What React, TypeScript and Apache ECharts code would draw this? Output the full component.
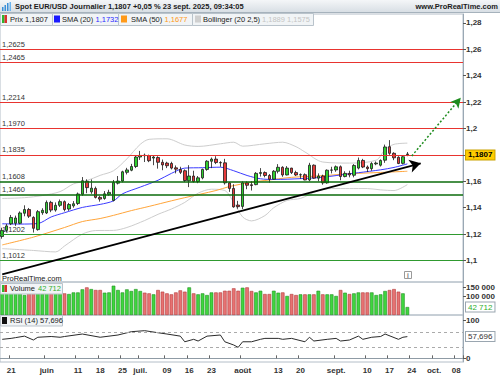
import React, { useEffect, useRef } from 'react';
import * as echarts from 'echarts';

const FONT = '"Liberation Sans", Arial, sans-serif';

// 104 weekday categories starting Mon 19 May 2025 (92 trading days + future space)
const DATES: string[] = (() => {
  const out: string[] = [];
  const d = new Date(Date.UTC(2025, 4, 19));
  while (out.length < 104) {
    const wd = d.getUTCDay();
    if (wd !== 0 && wd !== 6) out.push(d.toISOString().slice(0, 10));
    d.setUTCDate(d.getUTCDate() + 1);
  }
  return out;
})();

const TICK_LABELS: [number, string][] = [
  [2, '21'], [10, 'juin'], [17, '11'], [22, '18'], [27, '25'], [31, 'juil.'], [37, '09'], [42, '16'],
  [47, '23'], [54, 'août'], [62, '13'], [67, '20'], [75, 'sept.'], [82, '10'], [87, '17'], [92, '24'],
  [97, 'oct.'], [102, '08'],
];

// [open, close, low, high]
const OHLC: number[][] = [
  [1.1182, 1.1228, 1.1165, 1.1248], [1.1228, 1.1262, 1.1212, 1.1278], [1.1278, 1.1326, 1.1268, 1.1345],
  [1.1282, 1.1322, 1.1262, 1.1340], [1.1282, 1.1360, 1.1275, 1.1372], [1.1358, 1.1386, 1.1335, 1.1418],
  [1.1386, 1.1336, 1.1322, 1.1398], [1.1326, 1.1244, 1.1212, 1.1335], [1.1234, 1.1370, 1.1226, 1.1382],
  [1.1362, 1.1380, 1.1346, 1.1396], [1.1360, 1.1440, 1.1352, 1.1455], [1.1440, 1.1382, 1.1366, 1.1452],
  [1.1382, 1.1418, 1.1370, 1.1440], [1.1418, 1.1446, 1.1405, 1.1462], [1.1446, 1.1386, 1.1372, 1.1455],
  [1.1390, 1.1424, 1.1376, 1.1436], [1.1414, 1.1430, 1.1400, 1.1450], [1.1432, 1.1504, 1.1420, 1.1515],
  [1.1502, 1.1604, 1.1490, 1.1632], [1.1600, 1.1552, 1.1510, 1.1615], [1.1520, 1.1548, 1.1505, 1.1614],
  [1.1546, 1.1478, 1.1470, 1.1560], [1.1478, 1.1465, 1.1446, 1.1490], [1.1470, 1.1505, 1.1460, 1.1526],
  [1.1502, 1.1516, 1.1490, 1.1536], [1.1455, 1.1590, 1.1448, 1.1610], [1.1586, 1.1602, 1.1576, 1.1640],
  [1.1602, 1.1672, 1.1592, 1.1680], [1.1668, 1.1686, 1.1652, 1.1702], [1.1684, 1.1712, 1.1676, 1.1732],
  [1.1712, 1.1784, 1.1700, 1.1792], [1.1784, 1.1796, 1.1762, 1.1830], [1.1798, 1.1794, 1.1746, 1.1810],
  [1.1795, 1.1756, 1.1745, 1.1802], [1.1776, 1.1784, 1.1722, 1.1792], [1.1780, 1.1744, 1.1696, 1.1790],
  [1.1744, 1.1724, 1.1684, 1.1765], [1.1738, 1.1718, 1.1700, 1.1748], [1.1735, 1.1700, 1.1690, 1.1748],
  [1.1702, 1.1692, 1.1660, 1.1720], [1.1690, 1.1668, 1.1655, 1.1710], [1.1680, 1.1606, 1.1594, 1.1690],
  [1.1604, 1.1640, 1.1556, 1.1722], [1.1640, 1.1598, 1.1590, 1.1680], [1.1598, 1.1626, 1.1586, 1.1640],
  [1.1626, 1.1690, 1.1615, 1.1696], [1.1690, 1.1752, 1.1680, 1.1760], [1.1752, 1.1768, 1.1700, 1.1780],
  [1.1768, 1.1742, 1.1730, 1.1790], [1.1742, 1.1740, 1.1710, 1.1752], [1.1740, 1.1588, 1.1575, 1.1770],
  [1.1588, 1.1546, 1.1520, 1.1595], [1.1546, 1.1406, 1.1400, 1.1578], [1.1420, 1.1408, 1.1392, 1.1452],
  [1.1410, 1.1588, 1.1390, 1.1600], [1.1588, 1.1570, 1.1540, 1.1600], [1.1574, 1.1568, 1.1530, 1.1600],
  [1.1575, 1.1660, 1.1570, 1.1670], [1.1660, 1.1666, 1.1636, 1.1700], [1.1666, 1.1644, 1.1630, 1.1675],
  [1.1644, 1.1616, 1.1590, 1.1655], [1.1616, 1.1676, 1.1612, 1.1685], [1.1676, 1.1706, 1.1660, 1.1730],
  [1.1706, 1.1648, 1.1634, 1.1714], [1.1648, 1.1700, 1.1645, 1.1715], [1.1700, 1.1666, 1.1655, 1.1702],
  [1.1666, 1.1648, 1.1640, 1.1680], [1.1648, 1.1650, 1.1618, 1.1660], [1.1650, 1.1610, 1.1608, 1.1660],
  [1.1610, 1.1722, 1.1600, 1.1740], [1.1722, 1.1624, 1.1620, 1.1728], [1.1624, 1.1640, 1.1600, 1.1660],
  [1.1640, 1.1588, 1.1574, 1.1650], [1.1588, 1.1684, 1.1582, 1.1690], [1.1684, 1.1686, 1.1660, 1.1710],
  [1.1686, 1.1710, 1.1672, 1.1720], [1.1710, 1.1636, 1.1608, 1.1720], [1.1636, 1.1660, 1.1630, 1.1676],
  [1.1660, 1.1648, 1.1630, 1.1680], [1.1646, 1.1720, 1.1630, 1.1730], [1.1700, 1.1758, 1.1690, 1.1780],
  [1.1758, 1.1708, 1.1700, 1.1770], [1.1708, 1.1696, 1.1670, 1.1720], [1.1696, 1.1734, 1.1680, 1.1745],
  [1.1732, 1.1738, 1.1722, 1.1750], [1.1722, 1.1758, 1.1712, 1.1766], [1.1760, 1.1860, 1.1740, 1.1878],
  [1.1862, 1.1812, 1.1800, 1.1912], [1.1812, 1.1778, 1.1760, 1.1820], [1.1782, 1.1735, 1.1730, 1.1790],
  [1.1736, 1.1786, 1.1728, 1.1792], [1.1802, 1.1807, 1.1790, 1.1822],
];

const VOLUME: number[] = [
  125000, 118000, 130000, 122000, 128000, 107000, 124000, 135000, 140000, 115000,
  126000, 130000, 118000, 120000, 116000, 112500, 121000, 121000, 137500, 148000,
  139000, 134000, 134000, 119600, 121000, 157000, 134000, 121000, 137500, 128600,
  139000, 128600, 119600, 116000, 110700, 134000, 125000, 116000, 110700, 121000,
  132000, 125000, 148000, 116000, 110700, 116000, 107000, 121000, 121000, 121000,
  130000, 130000, 143000, 130000, 146000, 148000, 128600, 121000, 130000, 112500,
  112500, 130000, 119600, 121000, 102000, 112500, 107000, 110700, 110700, 110700,
  110700, 130000, 110700, 110700, 110700, 102000, 134000, 119600, 112500, 116000,
  121000, 121000, 121000, 121000, 107000, 110700, 128600, 134000, 139000, 125000,
  116000, 42712,
];

// indicator readings: [categoryIndex, value]
const SMA20_PTS: number[][] = [
  [0, 1.1278], [4, 1.1276], [8, 1.128], [11, 1.133], [14, 1.1362], [18, 1.1402], [22, 1.1425], [25, 1.1452],
  [27, 1.1505], [31, 1.1556], [35, 1.1608], [38, 1.166], [41, 1.17], [45, 1.1703], [49, 1.1707], [52, 1.168],
  [55, 1.1644], [58, 1.1619], [61, 1.1614], [67, 1.162], [72, 1.1631], [78, 1.1657], [80, 1.1665], [85, 1.1687],
  [88, 1.1705], [91, 1.1732],
];
const SMA50_PTS: number[][] = [
  [0, 1.1118], [7, 1.1177], [14, 1.125], [18, 1.1295], [22, 1.1318], [25, 1.1342], [29, 1.1378], [33, 1.141],
  [38, 1.1452], [41, 1.1476], [48, 1.153], [51, 1.156], [56, 1.1593], [59, 1.1606], [65, 1.163], [71, 1.164],
  [78, 1.1657], [85, 1.1667], [91, 1.1676],
];
const BB_UP_PTS: number[][] = [
  [0, 1.147], [5, 1.1476], [9, 1.1492], [13, 1.1522], [16, 1.158], [19, 1.1605], [22, 1.1645], [25, 1.168],
  [28, 1.177], [31, 1.188], [33, 1.1918], [37, 1.1922], [41, 1.1875], [44, 1.1864], [49, 1.1884], [52, 1.1896],
  [54, 1.1866], [59, 1.1884], [63, 1.1896], [66, 1.1862], [68, 1.1822], [72, 1.1746], [78, 1.1738], [84, 1.176],
  [86, 1.184], [88, 1.188], [91, 1.1889],
];
const BB_LOW_PTS: number[][] = [
  [0, 1.109], [7, 1.1076], [12, 1.1065], [14, 1.111], [18, 1.12], [21, 1.1227], [25, 1.1228], [28, 1.125],
  [32, 1.1303], [35, 1.135], [38, 1.139], [41, 1.144], [44, 1.151], [47, 1.154], [50, 1.153], [52, 1.144],
  [54, 1.133], [56, 1.13], [59, 1.134], [61, 1.14], [64, 1.1455], [67, 1.147], [71, 1.153], [74, 1.1545],
  [78, 1.1545], [82, 1.1545], [85, 1.1535], [88, 1.153], [91, 1.1575],
];
const RSI_PTS: number[][] = [
  [0, 50.5], [2, 53], [3, 55], [5, 59], [7, 48.7], [8, 56], [11, 58], [13, 56], [14, 58], [18, 64.6], [22, 56],
  [26, 62], [29, 70.8], [32, 73.5], [35, 68], [37, 64.6], [40, 59], [41, 44], [43, 50.5], [44, 46], [46, 59],
  [49, 62], [50, 44], [52, 35.4], [53, 29.2], [54, 44], [56, 44], [58, 50.5], [59, 53], [62, 53], [63, 50.5],
  [65, 53], [68, 44], [69, 56], [70, 46], [73, 50.5], [75, 53], [76, 46], [78, 48.7], [80, 59], [81, 50.5],
  [83, 56], [85, 58], [86, 64.6], [89, 50.5], [90, 56], [91, 57.7],
];

const RESISTANCES = [1.2625, 1.2465, 1.2214, 1.197, 1.1835];
const SUPPORTS = [1.1608, 1.146];
const LOW_SUPPORTS = [1.1202, 1.1012];
const PRICE_TICKS = [1.1, 1.12, 1.14, 1.16, 1.18, 1.2, 1.22, 1.24, 1.26, 1.28];
// 1,18 is hidden behind the last-price tag in the reference
const PRICE_LABELS = [1.1, 1.12, 1.14, 1.16, 1.2, 1.22, 1.24, 1.26, 1.28];
const VOLUME_TICKS = [100000, 150000];
const RSI_TICKS = [0, 100];
const RSI_BANDS = [70, 30];
const TREND_LINE = [[0, 1.0895], [94, 1.1736]];
const TARGET_ARROW = [[92, 1.1792], [103, 1.2233]];

const LAST_PRICE = 1.1807;
const LAST_SMA20 = 1.1732;
const LAST_SMA50 = 1.1677;
const LAST_BB = [1.1889, 1.1575];
const LAST_VOLUME = 42712;
const LAST_RSI = 57.696;

const UP = '#2fcf2f';
const DOWN = '#e53a3a';

const fmtDec = (v: number, d: number) => v.toFixed(d).replace('.', ',');
const fmtAxis = (v: number) => String(Math.round(v * 100) / 100).replace('.', ',');
const fmtVol = (v: number) => {
  const s = Math.round(v).toString();
  return s.length > 3 ? s.slice(0, s.length - 3) + ' ' + s.slice(-3) : s;
};

const labelMap: Record<number, string> = {};
TICK_LABELS.forEach(([i, t]) => (labelMap[i] = t));

function txt(x: number, y: number, text: string, fill: string, size = 7.5, weight = 'normal', align = 'left') {
  return {
    type: 'text', x, y, z: 100,
    style: {
      text, fill, fontSize: size, fontWeight: weight, fontFamily: FONT,
      align, verticalAlign: 'middle', textAlign: align, textVerticalAlign: 'middle',
    },
  };
}
function box(x: number, y: number, w: number, h: number) {
  return {
    type: 'rect', z: 99, shape: { x: x + 0.5, y: y + 0.5, width: w, height: h },
    style: { fill: '#f1f4f6', stroke: '#b9c3cb', lineWidth: 1 },
  };
}
function sq(x: number, y: number, fill: string, w = 5, h = 7) {
  return { type: 'rect', z: 101, shape: { x, y, width: w, height: h }, style: { fill } };
}

function buildOption() {
  const level = (v: number, color: string, width: number) => ({
    yAxis: v,
    lineStyle: { color, width, type: 'solid' },
    label: {
      show: true, position: 'insideStartTop', formatter: fmtDec(v, 4), color: '#333',
      fontSize: 7.5, fontFamily: FONT, distance: [2, 1],
    },
  });
  const tag = (v: number, text: string, color: string, bg: string, border: string, bold = false) => ({
    yAxis: v,
    lineStyle: { color: 'rgba(0,0,0,0)', width: 1 },
    label: {
      show: true, position: 'end', formatter: text, color, backgroundColor: bg, borderColor: border,
      borderWidth: 1, padding: [1, 2, 0, 2], fontSize: 8, fontWeight: bold ? 'bold' : 'normal',
      fontFamily: FONT, distance: 3,
    },
  });

  const xAxes = [0, 1, 2].map((g) => ({
    type: 'category', gridIndex: g, data: DATES, boundaryGap: true,
    axisLine: { show: g === 2, lineStyle: { color: '#8f9ba5' } },
    axisTick: {
      show: g === 2, inside: true, length: 3, interval: (i: number) => labelMap[i] !== undefined,
      lineStyle: { color: '#666' },
    },
    axisLabel: {
      show: g === 2, interval: (i: number) => labelMap[i] !== undefined,
      formatter: (_v: string, i: number) => labelMap[i] || '',
      fontSize: 8, fontWeight: 'bold', color: '#333', fontFamily: FONT, margin: 4,
    },
    splitLine: { show: false },
  }));

  const yCommon = {
    type: 'value', position: 'right', splitLine: { show: false },
    axisLine: { show: true, lineStyle: { color: '#9aa8b4' } },
  };

  return {
    animation: false,
    backgroundColor: '#ffffff',
    textStyle: { fontFamily: FONT },
    grid: [
      { left: 0, right: 37, top: 14, height: 268, show: true, borderColor: '#b4bec8', borderWidth: 1 },
      { left: 0, right: 37, top: 282, height: 33, show: true, borderColor: '#b4bec8', borderWidth: 1 },
      { left: 0, right: 37, top: 315, height: 47, show: true, borderColor: '#b4bec8', borderWidth: 1 },
    ],
    xAxis: xAxes,
    yAxis: [
      {
        ...yCommon, gridIndex: 0, min: 1.08371, max: 1.28674,
        axisTick: { show: true, length: 3, customValues: PRICE_TICKS, lineStyle: { color: '#555' } },
        axisLabel: {
          customValues: PRICE_LABELS, formatter: (v: number) => fmtAxis(v), fontSize: 8,
          fontWeight: 'bold', color: '#333', fontFamily: FONT, margin: 3,
        },
      },
      {
        ...yCommon, gridIndex: 1, min: 0, max: 176786,
        axisTick: { show: true, length: 3, customValues: VOLUME_TICKS, lineStyle: { color: '#555' } },
        axisLabel: {
          customValues: VOLUME_TICKS, formatter: (v: number) => fmtVol(v), fontSize: 8,
          fontWeight: 'bold', color: '#333', fontFamily: FONT, margin: 3,
        },
      },
      {
        ...yCommon, gridIndex: 2, min: -9.8, max: 115.2,
        axisTick: { show: true, length: 3, customValues: RSI_TICKS, lineStyle: { color: '#555' } },
        axisLabel: {
          customValues: RSI_TICKS, formatter: (v: number) => String(v), fontSize: 8,
          fontWeight: 'bold', color: '#333', fontFamily: FONT, margin: 3,
        },
      },
    ],
    series: [
      { type: 'line', xAxisIndex: 0, yAxisIndex: 0, data: BB_UP_PTS, symbol: 'none', smooth: 0.3, z: 1,
        lineStyle: { color: '#cdcdcd', width: 1 } },
      { type: 'line', xAxisIndex: 0, yAxisIndex: 0, data: BB_LOW_PTS, symbol: 'none', smooth: 0.3, z: 1,
        lineStyle: { color: '#cdcdcd', width: 1 } },
      { type: 'line', xAxisIndex: 0, yAxisIndex: 0, data: SMA50_PTS, symbol: 'none', smooth: 0.3, z: 1,
        lineStyle: { color: '#ffa53a', width: 1 } },
      { type: 'line', xAxisIndex: 0, yAxisIndex: 0, data: SMA20_PTS, symbol: 'none', smooth: 0.3, z: 1,
        lineStyle: { color: '#3b3bff', width: 1 } },
      {
        type: 'candlestick', xAxisIndex: 0, yAxisIndex: 0, data: OHLC, barWidth: 3, z: 3,
        itemStyle: { color: UP, color0: DOWN, borderColor: '#1a1a1a', borderColor0: '#1a1a1a', borderWidth: 0.8 },
        markLine: {
          silent: true, symbol: ['none', 'none'], animation: false,
          data: [
            ...RESISTANCES.map((v) => level(v, '#e8342f', 1)),
            ...SUPPORTS.map((v) => level(v, '#0b6b0b', 1.6)),
            ...LOW_SUPPORTS.map((v) => level(v, '#2f9a2f', 1)),
            [
              { coord: TREND_LINE[0], symbol: 'none', lineStyle: { color: '#000', width: 1.8, type: 'solid' }, label: { show: false } },
              { coord: TREND_LINE[1], symbol: 'arrow', symbolSize: [10, 11] },
            ],
            [
              { coord: TARGET_ARROW[0], symbol: 'none', lineStyle: { color: '#1e8c1e', width: 1.5, type: [2, 2] }, label: { show: false } },
              { coord: TARGET_ARROW[1], symbol: 'arrow', symbolSize: [8, 10] },
            ],
            tag(LAST_PRICE, fmtDec(LAST_PRICE, 4), '#000', '#ffcc00', '#c9a100', true),
          ],
        },
      },
      {
        type: 'bar', xAxisIndex: 1, yAxisIndex: 1, barWidth: 3.6,
        data: VOLUME.map((v, i) => {
          const up = OHLC[i][1] >= OHLC[i][0];
          return {
            value: v,
            itemStyle: up
              ? { color: '#3fd63f', borderColor: '#1f8f1f', borderWidth: 0.6 }
              : { color: '#e77272', borderColor: '#b33a3a', borderWidth: 0.6 },
          };
        }),
        markLine: {
          silent: true, symbol: ['none', 'none'], animation: false,
          data: [tag(LAST_VOLUME, fmtVol(LAST_VOLUME), '#2fae2f', '#ffffff', '#9aa6b0')],
        },
      },
      {
        type: 'line', xAxisIndex: 2, yAxisIndex: 2, data: RSI_PTS, symbol: 'none',
        lineStyle: { color: '#2a2a2a', width: 1 },
        markLine: {
          silent: true, symbol: ['none', 'none'], animation: false,
          data: [
            ...RSI_BANDS.map((v) => ({ yAxis: v, lineStyle: { color: '#aaaaaa', width: 1, type: [3, 3] }, label: { show: false } })),
            tag(LAST_RSI, fmtDec(LAST_RSI, 3), '#333', '#ffffff', '#9aa6b0'),
          ],
        },
      },
    ],
    graphic: [
      // header bar
      {
        type: 'rect', z: 98, shape: { x: 0, y: 0, width: 500, height: 13 },
        style: {
          fill: new echarts.graphic.LinearGradient(0, 0, 0, 1, [
            { offset: 0, color: '#f4f6f8' }, { offset: 1, color: '#d6dde3' },
          ]),
        },
      },
      { type: 'line', z: 99, shape: { x1: 0, y1: 12.5, x2: 500, y2: 12.5 }, style: { stroke: '#a6b2bc', lineWidth: 1 } },
      sq(2, 7, '#3a8fd8', 1.5, 4), sq(4.5, 5, '#3a8fd8', 1.5, 6), sq(7, 3, '#3a8fd8', 1.5, 8), sq(9.5, 2, '#6bb4ee', 1.5, 9),
      txt(15, 6.5, `Spot EUR/USD Journalier ${fmtDec(LAST_PRICE, 4)} +0,05 % 23 sept. 2025, 09:34:05`, '#1b1b1b', 7.5, 'bold'),
      txt(498, 6.5, 'www.ProRealTime.com', '#1b1b1b', 7.5, 'bold', 'right'),
      // legend row
      box(0, 13, 52, 12),
      sq(2, 15, '#2fb52f', 2.5, 8), sq(4.5, 15, '#d93030', 2.5, 8),
      txt(10, 19.5, `Prix ${fmtDec(LAST_PRICE, 4)}`, '#222'),
      box(52, 13, 66, 12), sq(54, 15.5, '#1a1aff', 6, 7),
      txt(62, 19.5, 'SMA (20)', '#222'), txt(95.5, 19.5, fmtDec(LAST_SMA20, 4), '#2b2bff'),
      box(118, 13, 74, 12), sq(121, 15.5, '#ff9a1a', 6, 7),
      txt(131, 19.5, 'SMA (50)', '#222'), txt(164.5, 19.5, fmtDec(LAST_SMA50, 4), '#ff9a1a'),
      box(192, 13, 121, 12), sq(195, 15.5, '#cfcfcf', 6, 7),
      txt(203, 19.5, 'Bollinger (20 2,5)', '#222'),
      txt(262, 19.5, `${fmtDec(LAST_BB[0], 4)} ${fmtDec(LAST_BB[1], 4)}`, '#c4c4c4'),
      // watermark + info
      txt(2, 278, 'ProRealTime.com', '#151515', 7.5),
      { type: 'rect', z: 99, shape: { x: 404.5, y: 271.5, width: 7, height: 7 }, style: { fill: '#fff', stroke: '#9a9a9a', lineWidth: 1 } },
      txt(408, 275.3, 'i', '#777', 6.5, 'bold', 'center'),
      // volume legend
      box(0, 283, 62, 10.5),
      sq(2, 285, '#2fb52f', 2.5, 7), sq(4.5, 285, '#d93030', 2.5, 7),
      txt(10, 288.5, 'Volume', '#222'), txt(38, 288.5, fmtVol(LAST_VOLUME), '#2fae2f'),
      // rsi legend
      box(0, 315, 62, 10.5),
      sq(2, 317, '#111', 5, 7),
      txt(10, 320.5, 'RSI (14)', '#222'), txt(40, 320.5, fmtDec(LAST_RSI, 3), '#222'),
    ],
  };
}

export default function App() {
  const ref = useRef<HTMLDivElement>(null);
  useEffect(() => {
    if (!ref.current) return;
    const chart = echarts.init(ref.current, null, { renderer: 'svg' });
    chart.setOption(buildOption() as any);
    return () => chart.dispose();
  }, []);
  return <div ref={ref} style={{ position: 'fixed', left: 0, top: 0, width: 500, height: 375 }} />;
}
